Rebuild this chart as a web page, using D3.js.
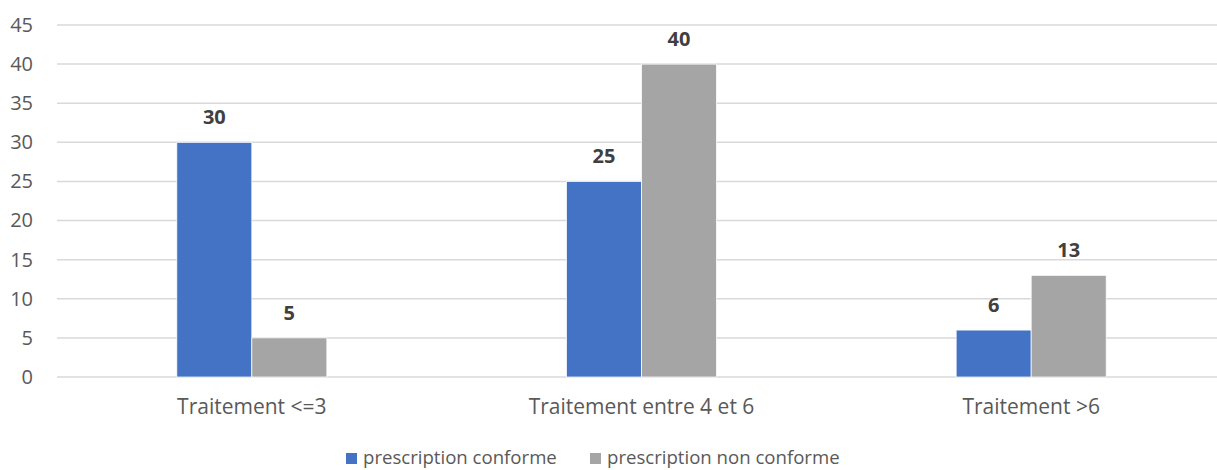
<!DOCTYPE html>
<html>
<head>
<meta charset="utf-8">
<script src="https://cdn.jsdelivr.net/npm/d3@7"></script>
<style>
  html, body { margin: 0; padding: 0; background: #ffffff; }
  svg { display: block; font-family: "Open Sans", sans-serif; }
</style>
</head>
<body>
<svg id="chart" width="1217" height="470"></svg>
<script>
// Number of treatments vs. prescription conformity
const categories = ["Traitement <=3", "Traitement entre 4 et 6", "Traitement >6"];
const seriesNames = ["prescription conforme", "prescription non conforme"];
const conforme = [30, 25, 6];
const nonConforme = [5, 40, 13];
const yTicks = [0, 5, 10, 15, 20, 25, 30, 35, 40, 45];
const colors = ["#4472c4", "#a5a5a5"];

const seriesValues = [conforme, nonConforme];
const rows = categories.map((c, i) => ({
  category: c,
  values: seriesNames.map((s, j) => ({ series: s, index: j, value: seriesValues[j][i] }))
}));

const svg = d3.select("#chart");
const margin = { left: 57, right: -9, top: 25, bottom: 93 };
const W = 1217, H = 470;

const x = d3.scaleBand()
  .domain(categories)
  .range([margin.left, W - margin.right])
  .paddingInner(0.615)
  .paddingOuter(0.3075);

const x1 = d3.scaleBand()
  .domain(seriesNames)
  .range([0, x.bandwidth()]);

const y = d3.scaleLinear()
  .domain([0, 45])
  .range([H - margin.bottom, margin.top]);

// gridlines
svg.append("g")
  .selectAll("line")
  .data(yTicks)
  .join("line")
  .attr("x1", margin.left)
  .attr("x2", W)
  .attr("y1", d => y(d))
  .attr("y2", d => y(d))
  .attr("stroke", "#d9d9d9")
  .attr("stroke-width", 1.5);

// y-axis tick labels
const yAxis = d3.axisLeft(y).tickValues(yTicks).tickSize(0).tickPadding(24);
const gy = svg.append("g")
  .attr("transform", `translate(${margin.left},0)`)
  .call(yAxis);
gy.select(".domain").remove();
gy.selectAll("text")
  .attr("fill", "#595959")
  .style("font-size", "20px")
  .style("font-family", "'Open Sans', sans-serif");

// bars
const groups = svg.append("g")
  .selectAll("g")
  .data(rows)
  .join("g")
  .attr("transform", d => `translate(${x(d.category)},0)`);

groups.selectAll("rect")
  .data(d => d.values)
  .join("rect")
  .attr("x", d => x1(d.series))
  .attr("width", x1.bandwidth())
  .attr("y", d => y(d.value))
  .attr("height", d => y(0) - y(d.value))
  .attr("fill", d => colors[d.index])
  .attr("stroke", "#ffffff")
  .attr("stroke-width", 0.75);

// value labels
groups.selectAll("text")
  .data(d => d.values)
  .join("text")
  .attr("x", d => x1(d.series) + x1.bandwidth() / 2)
  .attr("y", d => y(d.value) - 18)
  .attr("text-anchor", "middle")
  .attr("fill", "#404040")
  .style("font-size", "20px")
  .style("font-weight", "bold")
  .text(d => d.value);

// x-axis category labels
const xAxis = d3.axisBottom(x).tickSize(0).tickPadding(22);
const gx = svg.append("g")
  .attr("transform", `translate(0,${y(0)})`)
  .call(xAxis);
gx.select(".domain").remove();
gx.selectAll("text")
  .attr("fill", "#595959")
  .style("font-size", "21px")
  .style("font-family", "'Open Sans', sans-serif");

// legend
const legendItems = [
  { name: seriesNames[0], color: colors[0], x: 346 },
  { name: seriesNames[1], color: colors[1], x: 590 }
];
const lg = svg.append("g")
  .selectAll("g")
  .data(legendItems)
  .join("g")
  .attr("transform", d => `translate(${d.x},453)`);
lg.append("rect")
  .attr("width", 11)
  .attr("height", 11)
  .attr("fill", d => d.color);
lg.append("text")
  .attr("x", 17)
  .attr("y", 11)
  .attr("fill", "#595959")
  .style("font-size", "18.6px")
  .text(d => d.name);
</script>
</body>
</html>
